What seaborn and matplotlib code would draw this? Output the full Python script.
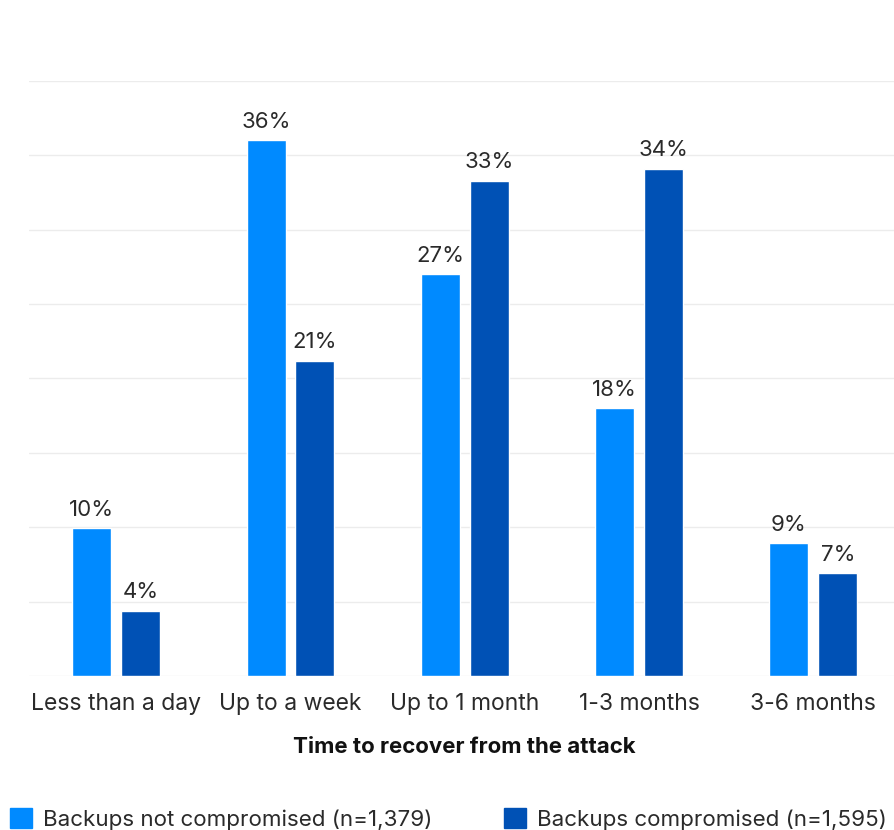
import pandas as pd
import numpy as np
import seaborn as sns
import matplotlib.pyplot as plt

categories = ['Less than a day', 'Up to a week', 'Up to 1 month', '1-3 months', '3-6 months']
not_compromised = [9.95, 36.0, 27.0, 18.0, 8.95]
compromised = [4.4, 21.2, 33.3, 34.1, 6.9]
series_names = ['Backups not compromised (n=1,379)', 'Backups compromised (n=1,595)']

df = pd.DataFrame({
    'Time': categories * 2,
    'Percent': not_compromised + compromised,
    'Group': [series_names[0]] * 5 + [series_names[1]] * 5,
})

sns.set_style('white')
plt.rcParams['font.family'] = ['Inter', 'DejaVu Sans']
text_color = '#2a2a2a'
colors = ['#008AFF', '#0051B5']

fig = plt.figure(figsize=(8.94, 8.30), dpi=100)
ax = fig.add_axes([29 / 894, 154 / 830, 871.5 / 894, 595 / 830])

sns.barplot(data=df, x='Time', y='Percent', hue='Group', palette=colors,
            width=0.56, gap=0.2, saturation=1, legend=False, ax=ax)

ax.set_ylim(0, 40)
ax.set_xlim(-0.5, 4.5)
ax.set_yticks(np.arange(0, 41, 5))
ax.set_yticklabels([])
ax.tick_params(axis='y', length=0)
ax.tick_params(axis='x', length=0, pad=12, labelsize=16.5, labelcolor=text_color)
ax.grid(axis='y', color='#ececec', linewidth=1)
ax.set_axisbelow(True)
sns.despine(ax=ax, left=True, bottom=True, top=True, right=True)

for cont in ax.containers:
    ax.bar_label(cont, fmt='%.0f%%', padding=6, fontsize=16, color=text_color)

ax.set_ylabel('')
ax.set_xlabel('Time to recover from the attack', fontsize=16, fontweight='bold',
              color='#111111', labelpad=16)

# two legend entries placed separately, as in the reference
for i, xpos in enumerate([10 / 894, 504 / 894]):
    h = plt.Rectangle((0, 0), 1, 1, color=colors[i])
    fig.legend([h], [series_names[i]], loc='lower left', bbox_to_anchor=(xpos, 0.0),
               frameon=False, fontsize=16.1, handlelength=0.98, handleheight=0.98,
               handletextpad=0.5, labelcolor=text_color,
               borderpad=0.0, borderaxespad=0.0)

fig.savefig('out.png', dpi=100)
